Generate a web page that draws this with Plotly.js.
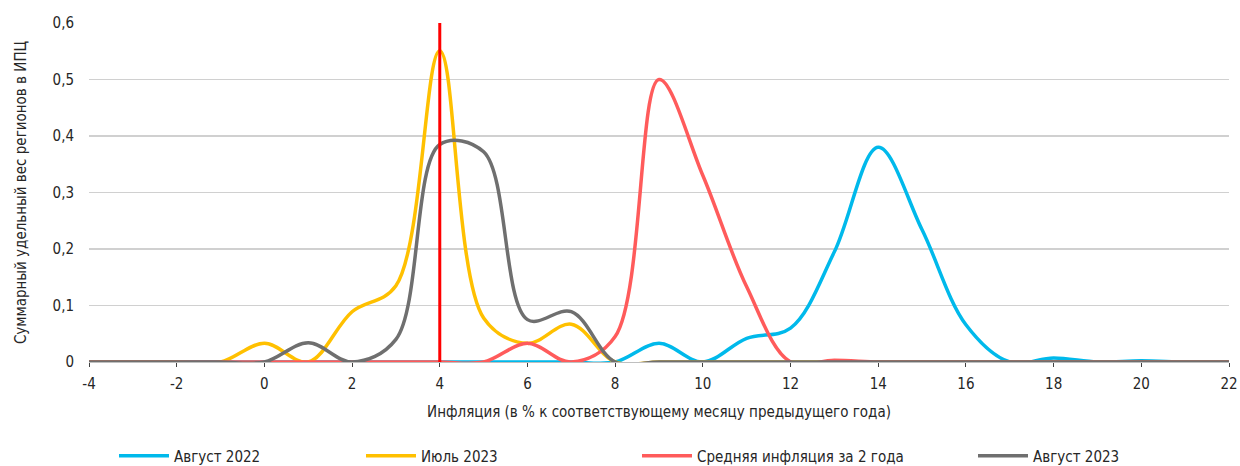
<!DOCTYPE html>
<html>
<head>
<meta charset="utf-8">
<script src="https://cdn.plot.ly/plotly-3.0.1.min.js"></script>
<style>html,body{margin:0;padding:0;background:#fff;}#chart{width:1240px;height:466px;}</style>
</head>
<body>
<div id="chart"></div>
<script>
// Inflation, % y/y
const inflation = [-4,-3,-2,-1,0,1,2,3,4,5,6,7,8,9,10,11,12,13,14,15,16,17,18,19,20,21,22];
const aug2022   = [0,0,0,0,0,0,0,0,0,0,0,0,0,0.033,0,0.042,0.06,0.195,0.38,0.234,0.066,0,0.007,0,0.002,0,0];
const jul2023   = [0,0,0,0,0.033,0,0.089,0.135,0.551,0.078,0.033,0.067,0,0,0,0,0,0,0,0,0,0,0,0,0,0,0];
const avg2y     = [0,0,0,0,0,0,0,0,0,0,0.033,0,0.045,0.5,0.33,0.133,0,0.003,0,0,0,0,0,0,0,0,0];
const aug2023   = [0,0,0,0,0,0.034,0,0.04,0.385,0.372,0.075,0.089,0,0,0,0,0,0,0,0,0,0,0,0,0,0,0];
const targetX   = [4,4];
const targetY   = [0,0.6];
const seriesNames = ['Август 2022','Июль 2023','Средняя инфляция за 2 года','Август 2023'];
const xTickVals = [-4,-2,0,2,4,6,8,10,12,14,16,18,20,22];
const xTickText = ['-4','-2','0','2','4','6','8','10','12','14','16','18','20','22'];
const yTickVals = [0,0.1,0.2,0.3,0.4,0.5,0.6];
const yTickText = ['0','0,1','0,2','0,3','0,4','0,5','0,6'];

const FONT = '"Liberation Sans Narrow", "DejaVu Sans Condensed", Roboto, sans-serif';
const colors = ['#00B9EB','#FFC000','#FF5B5B','#6F6F6F'];
const ys = [aug2022, jul2023, avg2y, aug2023];
const legends = ['legend','legend2','legend3','legend4'];

const traces = ys.map((y,i)=>({
  x: inflation, y: y, name: seriesNames[i], type:'scatter', mode:'lines',
  line:{color:colors[i], width:3.5, shape:'spline', smoothing:1},
  legend: legends[i], hoverinfo:'skip'
}));
traces.push({x:targetX, y:targetY, type:'scatter', mode:'lines', showlegend:false,
  line:{color:'#FF0000', width:3}, hoverinfo:'skip'});

const legPos = [119,366,642,978];
const plotL = 89, plotW = 1140;
const legendBase = {orientation:'h', yanchor:'middle', y:-0.277, xanchor:'left',
  font:{family:FONT, size:15, color:'#262626'}, itemwidth:50, bgcolor:'rgba(0,0,0,0)', borderwidth:0};

const layout = {
  width:1240, height:466,
  margin:{l:89, r:11, t:23, b:104, autoexpand:false},
  paper_bgcolor:'#fff', plot_bgcolor:'#fff',
  separators:', ',
  font:{family:FONT, size:15, color:'#262626'},
  xaxis:{range:[-4,22], tickvals:xTickVals, ticktext:xTickText, showgrid:false, zeroline:false,
    showline:true, linecolor:'#BFBFBF', linewidth:1, ticks:'outside', ticklen:4, tickcolor:'#404040',
    tickfont:{family:FONT, size:15, color:'#262626'}, ticklabelstandoff:4,
    title:{text:'Инфляция (в % к соответствующему месяцу предыдущего года)', font:{family:FONT, size:15, color:'#262626'}, standoff:14},
    automargin:false, fixedrange:true},
  yaxis:{range:[0,0.6], tickvals:yTickVals, ticktext:yTickText, showgrid:true, gridcolor:'#D0D0D0', gridwidth:1.5,
    zeroline:false, showline:false, ticks:'', ticklabelstandoff:14,
    tickfont:{family:FONT, size:15, color:'#262626'},
    title:{text:'Суммарный удельный вес регионов в ИПЦ', font:{family:FONT, size:15, color:'#262626'}, standoff:22},
    automargin:false, fixedrange:true},
  showlegend:true
};
legends.forEach((lg,i)=>{
  layout[lg] = Object.assign({}, legendBase, {x:(legPos[i]-plotL-5)/plotW});
});

Plotly.newPlot('chart', traces, layout, {displayModeBar:false, staticPlot:true});
</script>
</body>
</html>
